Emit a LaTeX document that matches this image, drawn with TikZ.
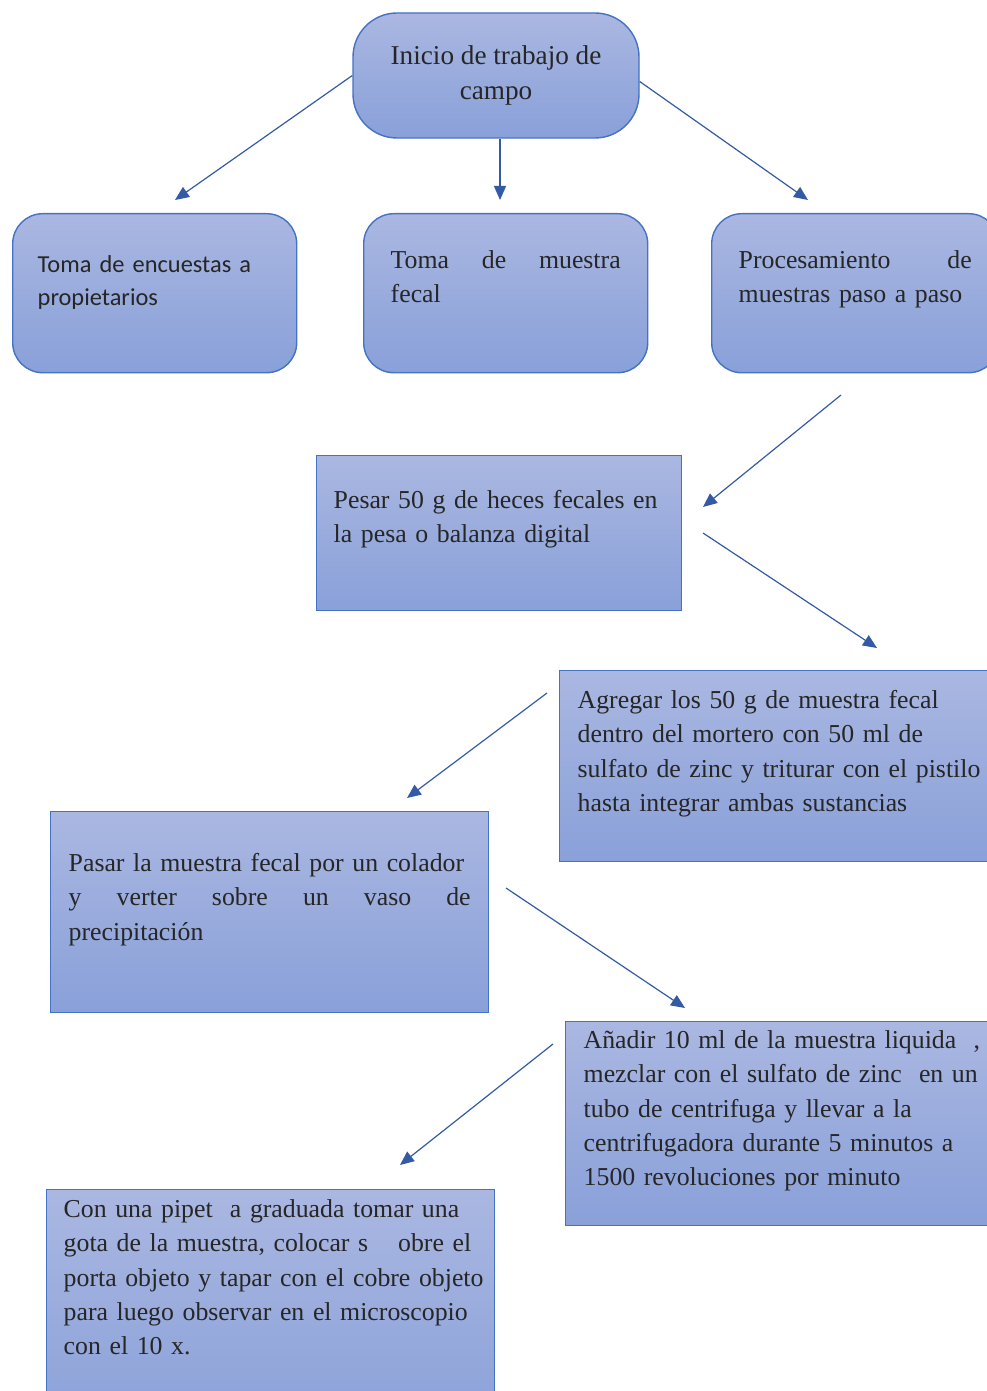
\documentclass[tikz,border=0pt]{standalone}
\usepackage{fontspec}
\setmainfont{Liberation Serif}
\newfontfamily\calibri{Carlito}
\usetikzlibrary{arrows.meta}
\definecolor{boxtop}{RGB}{170,183,225}
\definecolor{boxbot}{RGB}{137,160,217}
\definecolor{boxline}{RGB}{68,114,196}
\definecolor{flechacol}{RGB}{52,90,165}
\definecolor{texto}{RGB}{38,38,38}
\begin{document}
\begin{tikzpicture}[x=0.5pt, y=-0.5pt,
    paso/.style={anchor=north west, draw=boxline, line width=0.7pt, top color=boxtop, bottom color=boxbot,
        text=texto, inner ysep=0pt, inner xsep=9pt, align=left, font=\fontsize{12.9}{17.1}\selectfont},
    redondo/.style={paso, rounded corners=15pt},
    flecha/.style={-{Triangle[length=7pt, width=6pt]}, draw=flechacol, line width=0.6pt}]
    \useasboundingbox (0,0) rectangle (986,1391);
    % inicio
    \node[draw=boxline, line width=0.7pt, top color=boxtop, bottom color=boxbot, text=texto, rounded corners=22pt,
        minimum width=143pt, minimum height=62.5pt, align=center, font=\fontsize{13.6}{17.2}\selectfont]
        (inicio) at (496,75.5) {Inicio de trabajo de\\campo};
    % primera fila
    \node[redondo, inner xsep=12.5pt, text width=117pt, text height=29.5pt, text depth=50pt,
        font=\calibri\fontsize{12.2}{16.5}\selectfont] (encuestas) at (12,213) {Toma de encuestas a\\propietarios};
    \node[redondo, inner xsep=13.5pt, text width=115pt, text height=27.5pt, text depth=52pt]
        (muestra) at (363,213) {Toma\hfill de\hfill muestra\\fecal};
    \node[redondo, inner xsep=13.5pt, text width=116.5pt, text height=27.5pt, text depth=52pt]
        (procesamiento) at (711,213) {Procesamiento\hfill de\\\mbox{muestras paso a paso}};
    % pasos
    \node[paso, inner xsep=8.5pt, text width=165.5pt, text height=26.5pt, text depth=51pt]
        (pesar) at (316,455) {\mbox{Pesar 50 g de heces fecales en}\\la pesa o balanza digital};
    \node[paso, text width=215pt, text height=19pt, text depth=76.5pt]
        (agregar) at (559,670) {Agregar los 50 g de muestra fecal\\dentro del mortero con 50 ml de\\\mbox{sulfato de zinc y triturar con el pistilo}\\hasta integrar ambas sustancias};
    \node[paso, text width=201pt, text height=30pt, text depth=70.5pt]
        (pasar) at (50,811) {\mbox{Pasar la muestra fecal por un colador}\\y\hfill verter\hfill sobre\hfill un\hfill vaso\hfill de\\precipitación};
    \node[paso, text width=215pt, text height=13.5pt, text depth=88.5pt]
        (anadir) at (565,1021) {\mbox{Añadir 10 ml de la muestra liquida\ \ ,}\\mezclar con el sulfato de zinc\ \ en un\\tubo de centrifuga y llevar a la\\centrifugadora durante 5 minutos a\\1500 revoluciones por minuto};
    \node[paso, inner xsep=8.5pt, text width=207pt, text height=14pt, text depth=110pt]
        (pipeta) at (46,1189) {Con una pipet\ \ a graduada tomar una\\\mbox{gota de la muestra, colocar s\hspace{15pt}obre el}\\\mbox{porta objeto y tapar con el cobre objeto}\\\mbox{para luego observar en el microscopio}\\con el 10 x.};
    % puntas de flechas
    \coordinate (f1) at (175,200);
    \coordinate (f2) at (500,200);
    \coordinate (f3) at (808,200);
    \coordinate (f4a) at (841,395);
    \coordinate (f4b) at (703,507);
    \coordinate (f5a) at (703,533);
    \coordinate (f5b) at (877,648);
    \coordinate (f6a) at (547,693);
    \coordinate (f6b) at (407,798);
    \coordinate (f7a) at (506,888);
    \coordinate (f7b) at (685,1008);
    \coordinate (f8a) at (553,1044);
    \coordinate (f8b) at (400,1165);
    \draw[flecha] (inicio.west) -- (f1);
    \draw[flecha] ([xshift=2pt]inicio.south) -- (f2);
    \draw[flecha] ([yshift=-3pt]inicio.east) -- (f3);
    \draw[flecha] (f4a) -- (f4b);
    \draw[flecha] (f5a) -- (f5b);
    \draw[flecha] (f6a) -- (f6b);
    \draw[flecha] (f7a) -- (f7b);
    \draw[flecha] (f8a) -- (f8b);
\end{tikzpicture}
\end{document}
